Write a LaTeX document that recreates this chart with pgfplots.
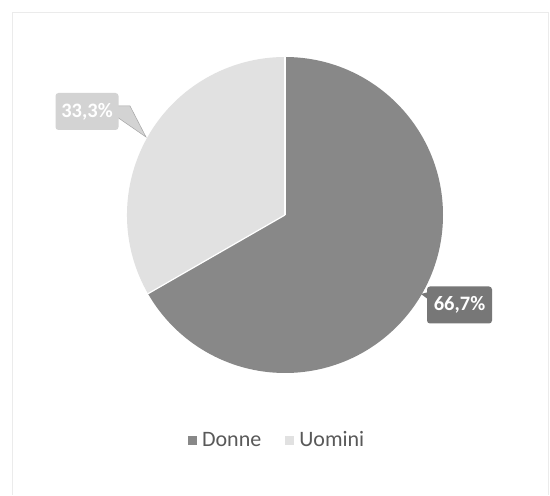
\documentclass[border=0pt]{standalone}
\usepackage{pgfplots}
\pgfplotsset{compat=1.18}
\usepackage{pgfplotstable}
\usepackage{fontspec}
\setmainfont{Carlito}
\definecolor{donne}{HTML}{888888}
\definecolor{uomini}{HTML}{E1E1E1}
\definecolor{lbldark}{HTML}{777777}
\definecolor{lbllight}{HTML}{D3D3D3}
\definecolor{legtext}{HTML}{595959}
\pgfplotstableread{
label value
Donne 66.7
Uomini 33.3
}\piedata
\pgfplotstablegetelem{0}{value}\of\piedata
\pgfmathsetmacro{\vA}{\pgfplotsretval}
\pgfplotstablegetelem{1}{value}\of\piedata
\pgfmathsetmacro{\vB}{\pgfplotsretval}
\pgfmathsetmacro{\total}{\vA+\vB}
\pgfmathsetmacro{\eA}{90-(\vA/\total)*360}
\pgfmathsetmacro{\eB}{\eA-(\vB/\total)*360}
\begin{document}
\begin{tikzpicture}
\begin{axis}[
  x=1pt, y=1pt, xmin=0, xmax=550, ymin=0, ymax=495,
  hide axis, clip=false, anchor=origin,
  legend columns=2,
  legend style={draw=none, fill=none, at={(0.504,0.111)}, anchor=center,
    font=\fontsize{22}{24}\selectfont\color{legtext},
    /tikz/every odd column/.append style={column sep=3pt},
    /tikz/every even column/.append style={column sep=22pt}},
  legend image code/.code={\fill[#1, draw=none] (0pt,-4.5pt) rectangle (9pt,4.5pt);},
]
\path[fill=white] (axis cs:0,0) rectangle (axis cs:550,495);
\draw[black!8, line width=0.8pt] (axis cs:12,0) -- (axis cs:12,483) -- (axis cs:548,483) -- (axis cs:548,0);
% sectors
\fill[donne] (axis cs:285,280) -- ++(90:158pt) arc[start angle=90, end angle=\eA, radius=158pt] -- cycle;
\fill[uomini] (axis cs:285,280) -- ++(\eA:158pt) arc[start angle=\eA, end angle=\eB, radius=158pt] -- cycle;
\draw[white, line width=1.2pt] (axis cs:285,280) -- ++(90:158pt);
\draw[white, line width=1.2pt] (axis cs:285,280) -- ++(\eA:158pt);
% labels
\fill[lbllight, draw=black!35, line width=0.5pt] (axis cs:117,389) -- (axis cs:130,389) -- (axis cs:146,358) -- (axis cs:117,378) -- cycle;
\node[fill=lbllight, rounded corners=3pt, minimum width=63pt, minimum height=37pt, inner sep=0pt, text=white, font=\fontsize{20.5}{22}\selectfont\bfseries] at (axis cs:87,383.5) {33,3\%};
\fill[lbldark] (axis cs:429,203) -- (axis cs:421,201) -- (axis cs:429,195) -- cycle;
\node[fill=lbldark, rounded corners=3pt, minimum width=65pt, minimum height=37pt, inner sep=0pt, text=white, font=\fontsize{20.5}{22}\selectfont\bfseries] at (axis cs:459.5,190) {66,7\%};
\addlegendimage{fill=donne}
\addlegendentry{Donne}
\addlegendimage{fill=uomini}
\addlegendentry{Uomini}
\end{axis}
\end{tikzpicture}
\end{document}
